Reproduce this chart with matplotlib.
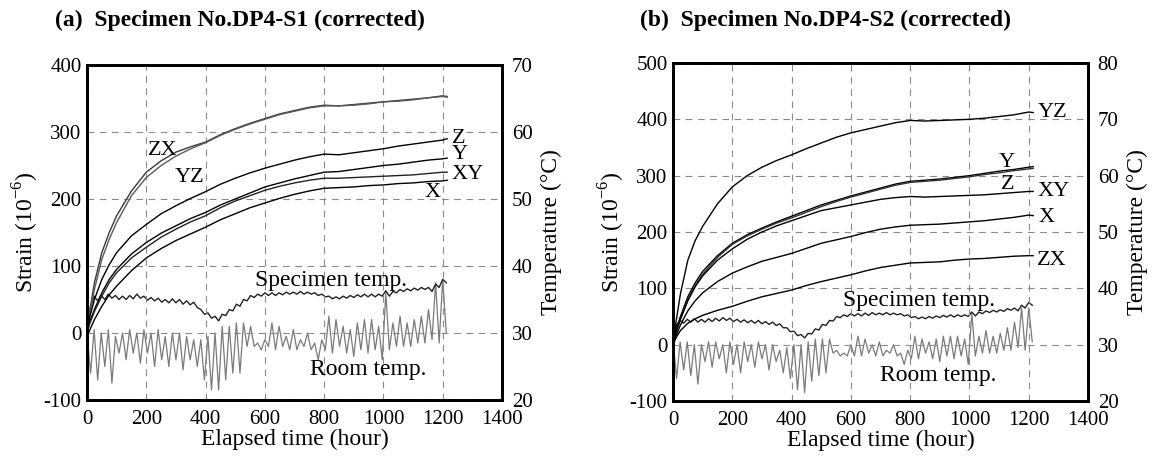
import numpy as np
import matplotlib
matplotlib.use("Agg")
import matplotlib.pyplot as plt

plt.rcParams['font.family'] = ['Liberation Serif', 'DejaVu Serif']
plt.rcParams['mathtext.fontset'] = 'custom'
plt.rcParams['mathtext.rm'] = 'Liberation Serif'
plt.rcParams['axes.unicode_minus'] = False

# ---- strain data (hours, 10^-6) ----
strain_hours = [0, 10, 25, 50, 75, 100, 150, 200, 250, 300, 350, 400, 450, 500, 550,
                600, 650, 700, 750, 800, 850, 900, 950, 1000, 1050, 1100, 1150, 1200, 1215]

a_zx = [0, 35, 75, 120, 150, 175, 212, 240, 257, 270, 278, 285, 296, 305, 313, 320, 327,
        332, 337, 340, 339, 341, 343, 345, 347, 349, 351, 354, 353]
a_yz = [0, 30, 65, 110, 140, 165, 205, 232, 250, 264, 275, 284, 295, 304, 312, 319, 326,
        331, 336, 339, 339, 340, 342, 345, 346, 348, 351, 353, 352]
a_z = [0, 25, 50, 80, 102, 120, 145, 162, 178, 190, 201, 211, 222, 231, 239, 246, 252,
       258, 263, 267, 266, 269, 272, 275, 279, 282, 285, 288, 290]
a_y = [0, 18, 35, 60, 80, 95, 118, 135, 149, 160, 171, 180, 191, 200, 209, 218, 224,
       230, 235, 240, 241, 244, 247, 250, 252, 255, 258, 260, 261]
a_xy = [0, 15, 32, 55, 75, 90, 112, 128, 143, 155, 166, 175, 187, 197, 205, 213, 219,
        224, 228, 231, 231, 232, 233, 234, 235, 236, 238, 240, 240]
a_x = [-5, 5, 20, 40, 57, 70, 93, 112, 126, 138, 148, 158, 169, 178, 187, 194, 201,
       207, 212, 216, 217, 218, 220, 221, 223, 224, 226, 227, 228]

b_yz = [0, 40, 90, 150, 185, 210, 250, 280, 300, 315, 327, 337, 348, 358, 368, 376, 382,
        388, 394, 398, 397, 398, 399, 400, 402, 405, 408, 413, 412]
b_y = [0, 25, 50, 85, 110, 130, 158, 180, 195, 207, 218, 228, 238, 248, 256, 264, 271,
       278, 285, 290, 292, 294, 297, 300, 304, 308, 311, 315, 316]
b_z = [0, 22, 45, 80, 105, 125, 155, 178, 193, 205, 216, 225, 235, 245, 254, 262, 269,
       276, 283, 288, 290, 292, 295, 298, 302, 305, 309, 312, 313]
b_xy = [0, 22, 45, 78, 103, 122, 150, 170, 187, 200, 211, 220, 229, 238, 243, 248, 253,
        258, 261, 263, 262, 263, 264, 265, 266, 268, 270, 272, 272]
b_x = [0, 15, 35, 60, 78, 92, 112, 127, 138, 148, 155, 162, 171, 180, 186, 192, 199,
       205, 209, 212, 213, 214, 216, 218, 220, 223, 226, 230, 229]
b_zx = [0, 12, 25, 38, 46, 52, 61, 68, 77, 85, 91, 97, 105, 112, 118, 124, 131, 137,
        141, 145, 146, 147, 150, 152, 153, 155, 157, 158, 158]

# ---- temperature data (deg C), sampled every 12 h ----
temp_step = 12

a_room = [30, 24, 30.5, 23, 30, 25, 30.5, 22.5, 29.5, 27, 30, 26, 30.5, 27, 30, 25.5,
          30.5, 27, 30, 25, 30.5, 26, 29.5, 25, 30, 26, 30, 24.5, 29.5, 26, 29, 25,
          29, 23, 29.5, 21.5, 30, 21.5, 31, 23, 31, 24, 31.5, 24, 31.5, 28, 31, 28,
          28.5, 27.5, 29, 28, 31.5, 27.5, 31, 28, 29.5, 27.5, 30.5, 27.5, 29, 28, 30,
          27.5, 28.5, 26, 29, 27.5, 32.5, 27, 32, 28, 31, 27, 30.5, 26.5, 31.5, 27.5,
          32, 27, 32, 27.5, 31, 26, 36, 27.5, 31.5, 28, 32.5, 28, 31.5, 28, 32, 28.5,
          32.5, 28.5, 33.5, 29, 37.5, 28.5, 38, 30]
a_spec = [30, 34, 35.5, 34.8, 35.6, 35, 35.8, 35.2, 35.6, 35, 35.5, 35, 35.6, 35.1, 35.8,
          35.2, 35.5, 34.9, 35.3, 34.8, 35.2, 34.6, 35, 34.5, 35.1, 34.5, 35, 34.3, 34.8,
          34.2, 34.6, 33.8, 33.5, 32.8, 33, 32.2, 32.5, 31.8, 32.8, 32.6, 33.5, 33.3, 34.3,
          34, 35, 34.8, 35.6, 35.3, 35.8, 35.5, 36, 35.6, 36, 35.6, 36, 35.7, 36.1, 35.8,
          36.1, 35.8, 36.2, 35.8, 36.1, 35.8, 36, 35.6, 35.8, 35.4, 35.5, 35.1, 35.4, 35.1,
          35.5, 35.2, 35.6, 35.3, 35.7, 35.4, 35.8, 35.4, 35.8, 35.4, 35.8, 35.5, 36.3,
          35.5, 36.2, 36, 36.5, 36.2, 36.6, 36.3, 36.7, 36.4, 36.8, 36.5, 36.8, 36.2, 37.3,
          36.8, 38, 37.5]

b_room = [31, 24, 30.5, 25.5, 30.5, 24.5, 30, 23, 30, 27, 30.5, 26, 30.5, 27.5, 30, 25,
          30.5, 26.5, 30, 25, 30.5, 27, 30, 26, 30.5, 27.5, 30, 25.5, 30, 27, 29, 25,
          29.5, 24, 30, 22, 30, 21.5, 30.5, 23.5, 31, 24.5, 31, 25, 31, 28.5, 29, 28,
          28.5, 28, 30, 28, 31.5, 28, 31, 28.5, 30, 28, 30.5, 28, 29, 28.5, 30, 28, 28.5,
          26.5, 29, 27.5, 31.5, 27.5, 31, 28.5, 30.5, 27.5, 31, 27, 31.5, 28, 31.5, 27.5,
          31.5, 28, 31, 26.5, 35.5, 28, 31.5, 28.5, 32.5, 28.5, 31.5, 28.5, 32, 29, 33,
          29, 34, 29.5, 36.5, 29, 36.5, 30.5]
b_spec = [31, 33.5, 34.3, 33.8, 34.5, 34, 34.6, 34, 34.5, 34, 34.6, 34.1, 34.7, 34.2, 34.8,
          34.3, 34.7, 34.1, 34.5, 34, 34.4, 33.9, 34.3, 33.8, 34.3, 33.7, 34.1, 33.6, 34,
          33.4, 33.7, 33, 33, 32.3, 32.4, 31.6, 31.8, 31.2, 32, 31.9, 32.8, 32.6, 33.6,
          33.4, 34.3, 34.2, 35, 34.8, 35.3, 35, 35.5, 35.1, 35.5, 35.1, 35.6, 35.2, 35.7,
          35.3, 35.6, 35.3, 35.7, 35.3, 35.6, 35.3, 35.5, 35.1, 35.3, 34.8, 35, 34.6, 34.9,
          34.6, 35, 34.7, 35.1, 34.8, 35.2, 34.9, 35.3, 34.9, 35.3, 35, 35.3, 35, 35.8,
          35.1, 35.8, 35.5, 36, 35.7, 36.1, 35.8, 36.2, 35.9, 36.4, 36.1, 36.5, 36, 37,
          36.5, 37.5, 37]

x_ticks = [0, 200, 400, 600, 800, 1000, 1200, 1400]

panels = [
    dict(pos=[87 / 1156, 1 - 400 / 461, 415 / 1156, 335 / 461],
         title='(a)  Specimen No.DP4-S1 (corrected)', title_x=55 / 1156,
         slim=(-100, 400), tlim=(20, 70),
         curves=[(a_zx, '#3a3a3a'), (a_yz, '#5a5a5a'), (a_z, 'black'),
                 (a_y, 'black'), (a_xy, '#222222'), (a_x, 'black')],
         room=a_room, spec=a_spec,
         labels=[('ZX', 206, 273), ('YZ', 297, 232), ('Z', 1231, 291), ('Y', 1231, 266),
                 ('XY', 1231, 236), ('X', 1140, 209)],
         spec_xy=(567, 79), room_xy=(752, -55)),
    dict(pos=[673 / 1156, 1 - 401 / 461, 415 / 1156, 338 / 461],
         title='(b)  Specimen No.DP4-S2 (corrected)', title_x=640 / 1156,
         slim=(-100, 500), tlim=(20, 80),
         curves=[(b_yz, 'black'), (b_y, 'black'), (b_z, '#333333'),
                 (b_xy, 'black'), (b_x, 'black'), (b_zx, 'black')],
         room=b_room, spec=b_spec,
         labels=[('YZ', 1231, 413), ('Y', 1100, 323), ('Z', 1105, 284),
                 ('XY', 1229, 272), ('X', 1232, 225), ('ZX', 1229, 150)],
         spec_xy=(574, 79), room_xy=(698, -55)),
]

fig = plt.figure(figsize=(11.56, 4.61), dpi=100)

for p in panels:
    ax = fig.add_axes(p['pos'])
    ax2 = ax.twinx()
    ax.set_zorder(ax2.get_zorder() + 1)
    ax.patch.set_visible(False)

    for vals, col in p['curves']:
        ax.plot(strain_hours, vals, color=col, lw=1.0)

    t_hours = np.arange(len(p['room'])) * temp_step
    ax2.plot(t_hours, p['room'], color='#7a7a7a', lw=0.9)
    t_hours = np.arange(len(p['spec'])) * temp_step
    ax2.plot(t_hours, p['spec'], color='#222222', lw=1.0)

    ax.set_xlim(0, 1400)
    ax.set_ylim(*p['slim'])
    ax2.set_ylim(*p['tlim'])
    ax.set_xticks(x_ticks)
    ax.set_yticks(np.arange(p['slim'][0], p['slim'][1] + 1, 100))
    ax2.set_yticks(np.arange(p['tlim'][0], p['tlim'][1] + 1, 10))

    ax.grid(True, color='#8a8a8a', lw=0.8, linestyle=(0, (6, 5)))
    ax.tick_params(direction='in', length=0, labelsize=15, pad=4)
    ax.tick_params(axis='x', pad=7)
    ax2.tick_params(direction='in', length=0, labelsize=15, pad=7)
    for a in (ax, ax2):
        for s in a.spines.values():
            s.set_linewidth(2.0)

    ax.set_xlabel('Elapsed time (hour)', fontsize=17, labelpad=0)
    ax.set_ylabel(r'Strain (10$^{\mathrm{-6}}$)', fontsize=17, labelpad=2)
    ax2.set_ylabel('Temperature (°C)', fontsize=17, labelpad=6)

    for txt, hx, sy in p['labels']:
        ax.text(hx, sy, txt, fontsize=16, va='center', ha='left')
    ax.text(*p['spec_xy'], 'Specimen temp.', fontsize=17, va='center', ha='left')
    ax.text(*p['room_xy'], 'Room temp.', fontsize=17, va='center', ha='left')

    fig.text(p['title_x'], 1 - 20 / 461, p['title'], fontsize=17, fontweight='bold',
             va='center', ha='left')

fig.savefig('out.png', dpi=100)
